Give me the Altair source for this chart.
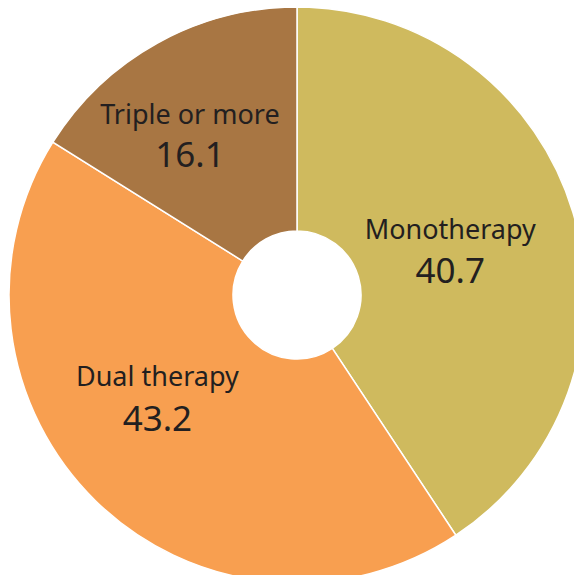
import altair as alt
import pandas as pd

categories = ["Monotherapy", "Dual therapy", "Triple or more"]
values = [40.7, 43.2, 16.1]
value_labels = ["40.7", "43.2", "16.1"]
colors = ["#CFBA5E", "#F89F50", "#A87643"]

df = pd.DataFrame({
    "category": categories,
    "value": values,
    "label": value_labels,
    "order": list(range(len(categories))),
})

CX, CY = 289, 287
FONT = "Noto Sans"

base = alt.Chart(df).transform_window(
    cum="sum(value)", sort=[alt.SortField("order")]
).transform_calculate(mid="datum.cum - datum.value / 2")

arcs = alt.Chart(df).mark_arc(
    outerRadius=288, innerRadius=64, stroke="white", strokeWidth=1.5
).encode(
    theta=alt.Theta("value:Q", stack=True),
    color=alt.Color("category:N", scale=alt.Scale(domain=categories, range=colors), legend=None),
    order=alt.Order("order:Q"),
    x=alt.value(CX),
    y=alt.value(CY),
)

# per-category label placement (radius, dy for name, dy for number)
place = {
    "Monotherapy": (160, -18, 23),
    "Dual therapy": (200, -60, -18),
    "Triple or more": (221, 14, 54),
}

layers = [arcs]
for cat in categories:
    r, dy1, dy2 = place[cat]
    b = base.transform_filter(alt.datum.category == cat)
    enc = dict(
        theta=alt.Theta("mid:Q", scale=alt.Scale(domain=[0, 100]), stack=None),
        x=alt.value(CX),
        y=alt.value(CY),
    )
    layers.append(
        b.mark_text(radius=r, dy=dy1, font=FONT, fontSize=27, color="#231F20",
                    align="center", baseline="middle").encode(text="category:N", **enc)
    )
    layers.append(
        b.mark_text(radius=r, dy=dy2, font=FONT, fontSize=35, color="#231F20",
                    align="center", baseline="middle").encode(text="label:N", **enc)
    )

chart = alt.layer(*layers).properties(
    width=566, height=567, padding=0, autosize=alt.AutoSizeParams(type="none")
).configure_view(stroke=None)

chart.save("out.html", embed_options={"renderer": "svg", "actions": False})
